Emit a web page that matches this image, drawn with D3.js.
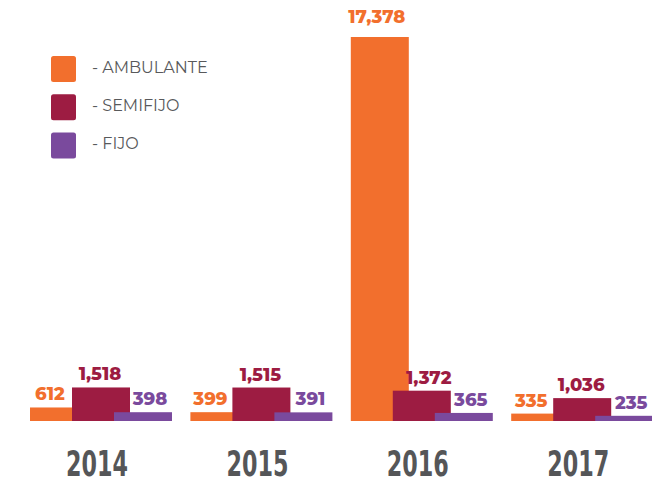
<!DOCTYPE html>
<html>
<head>
<meta charset="utf-8">
<script src="https://cdn.jsdelivr.net/npm/d3@7"></script>
<style>
  html, body { margin: 0; padding: 0; background: #fff; }
  svg { display: block; }
</style>
</head>
<body>
<svg id="chart" width="652" height="478"></svg>
<script>
// Puestos por tipo y año
const years = ["2014", "2015", "2016", "2017"];
const series = ["AMBULANTE", "SEMIFIJO", "FIJO"];
const ambulante = [612, 399, 17378, 335];
const semifijo = [1518, 1515, 1372, 1036];
const fijo = [398, 391, 365, 235];
const colors = ["#F26F2D", "#9D1C42", "#7A4A9D"];

const values = [ambulante, semifijo, fijo];
const fmt = d3.format(",");

const svg = d3.select("#chart");
const baseY = 421;

// Year groups and the overlapping bars inside each group
const x0 = d3.scaleBand().domain(years).range([30, 30 + 4 * 160.4]).paddingInner(0).paddingOuter(0);
const x1 = d3.scalePoint().domain(series).range([0, 84]);
const barW = 58;
const y = d3.scaleLinear().domain([0, 17378]).range([baseY, 37]);

const bars = svg.append("g");
series.forEach((s, si) => {
  bars.selectAll(null)
    .data(years.map((yr, i) => ({ yr, v: values[si][i] })))
    .join("rect")
    .attr("x", d => x0(d.yr) + x1(s))
    .attr("y", d => y(d.v))
    .attr("width", barW)
    .attr("height", d => baseY - y(d.v))
    .attr("fill", colors[si]);
});

// Value labels centred over the free space above each bar
const labels = svg.append("g")
  .attr("font-family", "Montserrat, 'Open Sans', sans-serif")
  .attr("font-weight", 800)
  .attr("font-size", 18)
  .attr("text-anchor", "middle");

series.forEach((s, si) => {
  years.forEach((yr, i) => {
    const v = values[si][i];
    const big = v > 10000;
    const ly = big ? y(v) - 14 : y(v) - 7;
    let left = x1(s), right = x1(s) + barW;
    if (si > 0 && y(values[si - 1][i]) < ly) left = x1(series[si - 1]) + barW;
    if (si < series.length - 1 && y(values[si + 1][i]) < ly) right = x1(series[si + 1]);
    labels.append("text")
      .attr("x", x0(yr) + (left + right) / 2 - (big ? 3 : 1))
      .attr("y", ly)
      .attr("fill", colors[si])
      .text(fmt(v));
  });
});

// Year captions under each group, set in a narrow face
svg.append("g")
  .selectAll("text")
  .data(years)
  .join("text")
  .attr("x", d => x0(d) + 71 - 4)
  .attr("y", 476)
  .attr("text-anchor", "middle")
  .attr("font-family", "'DejaVu Sans Condensed', 'Liberation Sans Narrow', sans-serif")
  .attr("font-weight", 700)
  .attr("font-size", 36)
  .attr("fill", "#555658")
  .attr("textLength", 62)
  .attr("lengthAdjust", "spacingAndGlyphs")
  .text(d => d);

// Legend
const legend = svg.append("g");
series.forEach((s, si) => {
  const gy = 56 + si * 38.2;
  legend.append("rect")
    .attr("x", 51).attr("y", gy)
    .attr("width", 25).attr("height", 26)
    .attr("rx", 2.5)
    .attr("fill", colors[si]);
  legend.append("text")
    .attr("x", 92)
    .attr("y", gy + 16.5)
    .attr("font-family", "Montserrat, 'Open Sans', sans-serif")
    .attr("font-size", 16)
    .attr("fill", "#58595b")
    .text("- " + s);
});
</script>
</body>
</html>
